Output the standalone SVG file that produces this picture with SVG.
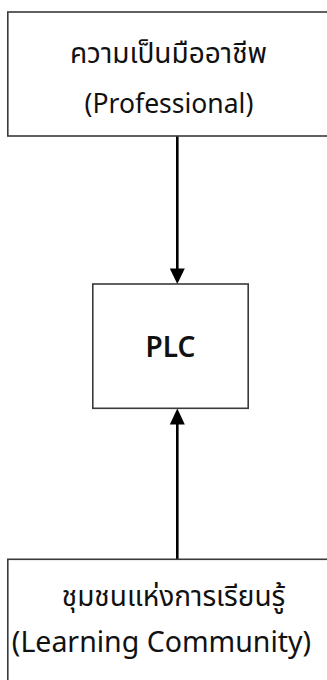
<svg xmlns="http://www.w3.org/2000/svg" width="327" height="680" viewBox="0 0 327 680">
<style>
.box{fill:#fff;stroke:#3a3a3a;stroke-width:1.6}
.t{font-family:"Noto Sans","Noto Sans Thai","DejaVu Sans",sans-serif;font-size:28px;fill:#111;text-anchor:middle}
.c{stroke:#000;stroke-width:2.6;fill:none}
.h{fill:#000}
</style>
<rect width="327" height="680" fill="#fff"/>
<g id="connectors">
<line class="c" x1="177.3" y1="136" x2="177.3" y2="270"/>
<polygon class="h" points="169.8,268.5 184.8,268.5 177.3,284"/>
<line class="c" x1="177.3" y1="559" x2="177.3" y2="423"/>
<polygon class="h" points="169.8,424.5 184.8,424.5 177.3,408.5"/>
</g>
<g id="professional">
<rect class="box" x="7.8" y="12" width="330" height="124"/>
<text class="t" x="168.5" y="63">ความเป็นมืออาชีพ</text>
<text class="t" x="169" y="113" style="font-size:26.5px">(Professional)</text>
</g>
<g id="plc">
<rect class="box" x="92.8" y="284" width="155.4" height="124.3"/>
<text class="t" x="170.5" y="357" style="font-weight:600">PLC</text>
</g>
<g id="learning">
<rect class="box" x="7.8" y="559.3" width="330" height="140"/>
<text class="t" x="173.5" y="606">ชุมชนแห่งการเรียนรู้</text>
<text class="t" x="161.5" y="652" style="font-size:28.5px">(Learning Community)</text>
</g>
</svg>
